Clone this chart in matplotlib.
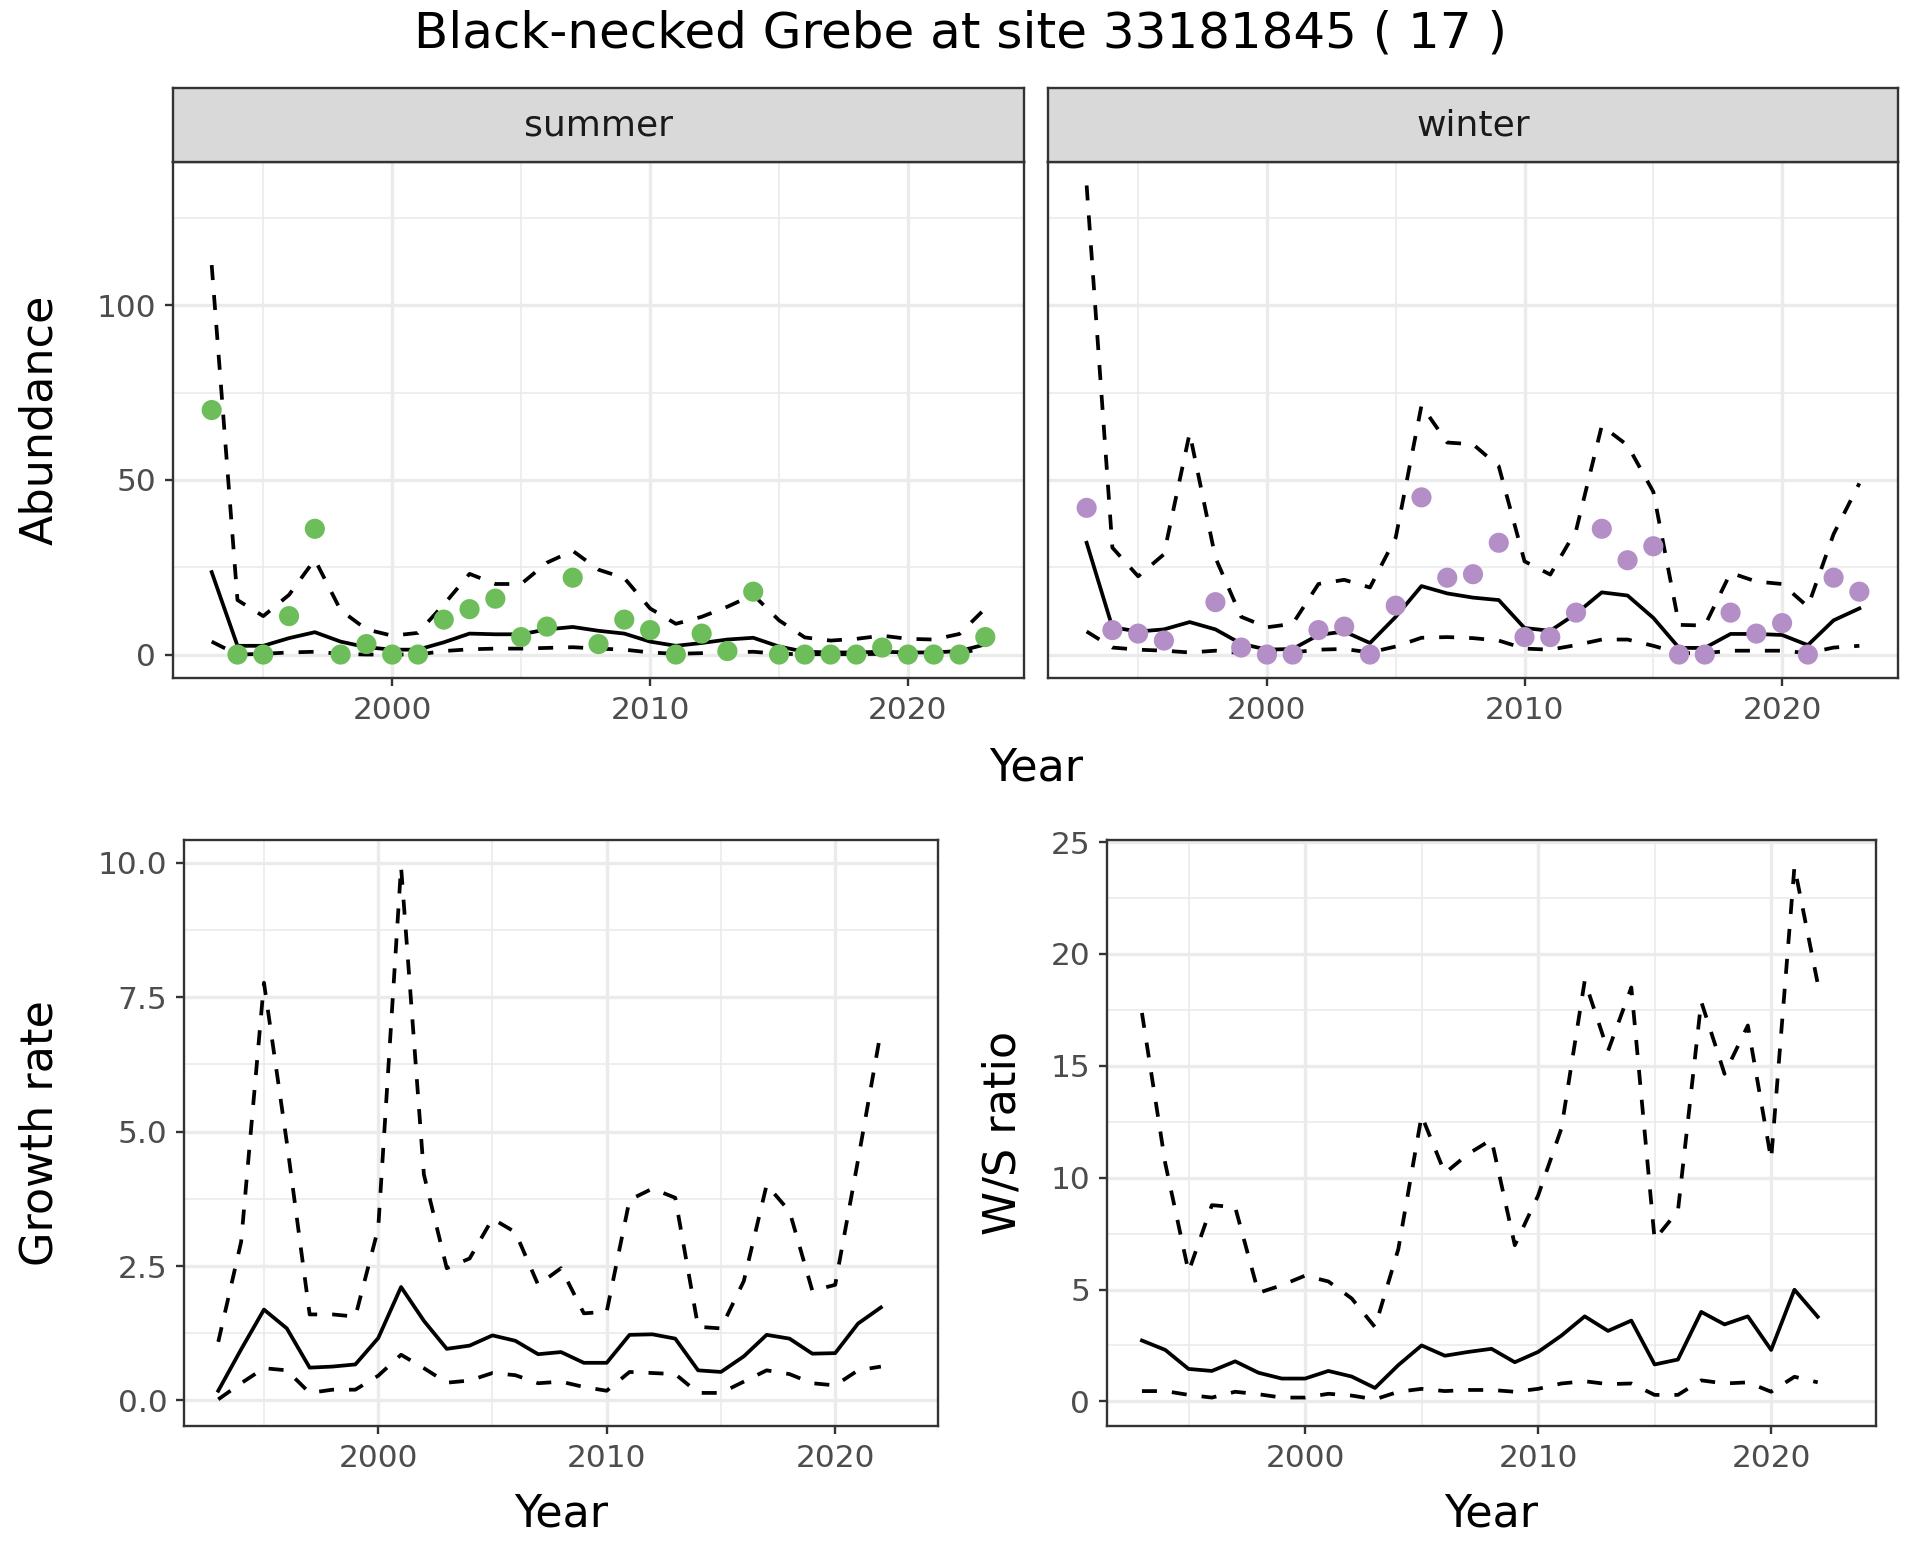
import numpy as np
import matplotlib
matplotlib.use("Agg")
import matplotlib.pyplot as plt
from matplotlib.ticker import MultipleLocator, FixedLocator, FormatStrFormatter

nan = np.nan
years = list(range(1993, 2024))
years_b = list(range(1993, 2023))

summer_count = [70, 0, 0, 11, 36, 0, 3, 0, 0, 10, 13, 16, 5, 8, 22, 3, 10, 7, 0, 6, 1, 18, 0, 0, 0, 0, 2, 0, 0, 0, 5]
summer_mid = [23.6, 2.5, 2.5, 4.7, 6.4, 3.7, 2.1, 1.4, 1.4, 3.5, 6.0, 5.8, 5.8, 7.2, 7.9, 6.8, 6.0, 3.7, 2.5, 3.3, 4.3, 4.8, 2.3, 0.8, 0.6, 0.6, 0.8, 0.6, 0.6, 1.0, 2.9]
summer_hi = [111.5, 15.6, 11.0, 17.1, 27.2, 12.7, 7.2, 5.4, 6.2, 14.3, 23.1, 20.2, 20.2, 26.3, 29.7, 24.3, 21.9, 13.2, 8.8, 10.8, 13.7, 17.1, 9.8, 4.9, 4.0, 4.5, 5.4, 4.5, 4.3, 5.9, 13.2]
summer_lo = [3.7, 0.0, 0.2, 0.6, 0.8, 0.2, 0.0, 0.0, 0.0, 1.0, 1.5, 1.7, 1.7, 1.9, 2.1, 1.7, 1.4, 0.6, 0.2, 0.4, 0.6, 0.8, 0.2, 0.1, 0.1, 0.1, 0.2, 0.1, 0.1, 0.2, 2.1]

winter_count = [42, 7, 6, 4, nan, 15, 2, 0, 0, 7, 8, 0, 14, 45, 22, 23, 32, 5, 5, 12, 36, 27, 31, 0, 0, 12, 6, 9, 0, 22, 18]
winter_mid = [32.0, 7.8, 6.6, 7.2, 9.3, 7.2, 3.1, 1.4, 1.6, 5.6, 6.6, 3.3, 10.8, 19.6, 17.5, 16.3, 15.6, 7.6, 6.8, 11.7, 17.8, 16.9, 10.5, 1.9, 1.9, 5.9, 5.9, 5.6, 2.7, 9.8, 13.2]
winter_hi = [134.3, 30.6, 22.4, 28.7, 63.4, 27.7, 10.8, 7.8, 8.8, 20.2, 21.4, 19.2, 33.5, 71.3, 60.7, 60.2, 53.9, 26.7, 22.9, 35.5, 65.5, 59.9, 46.6, 8.5, 8.3, 23.4, 20.9, 20.2, 13.7, 34.5, 49.0]
winter_lo = [6.6, 2.0, 1.4, 1.1, 0.6, 1.1, 0.4, 0.4, 0.6, 1.4, 1.6, 0.6, 2.3, 4.8, 5.0, 4.7, 4.0, 1.7, 1.4, 2.7, 4.3, 4.3, 2.5, 0.4, 0.4, 1.1, 1.1, 1.1, 0.4, 2.0, 2.5]

growth_mid = [0.18, 0.95, 1.69, 1.34, 0.61, 0.63, 0.67, 1.16, 2.11, 1.48, 0.96, 1.02, 1.21, 1.11, 0.86, 0.90, 0.70, 0.70, 1.22, 1.23, 1.15, 0.56, 0.53, 0.82, 1.22, 1.15, 0.87, 0.88, 1.43, 1.73]
growth_hi = [1.09, 2.95, 7.77, 4.8, 1.60, 1.60, 1.56, 3.2, 9.93, 4.2, 2.46, 2.64, 3.38, 3.13, 2.15, 2.46, 1.62, 1.65, 3.73, 3.94, 3.77, 1.37, 1.34, 2.22, 4.01, 3.52, 2.04, 2.15, 4.47, 6.87]
growth_lo = [0.02, 0.32, 0.60, 0.56, 0.14, 0.20, 0.20, 0.46, 0.85, 0.60, 0.33, 0.37, 0.51, 0.47, 0.32, 0.35, 0.25, 0.18, 0.53, 0.51, 0.49, 0.14, 0.14, 0.35, 0.56, 0.49, 0.32, 0.28, 0.56, 0.63]

ratio_mid = [2.72, 2.30, 1.45, 1.36, 1.79, 1.28, 1.02, 1.02, 1.36, 1.11, 0.60, 1.62, 2.50, 2.04, 2.21, 2.35, 1.75, 2.21, 2.94, 3.80, 3.15, 3.61, 1.65, 1.87, 4.0, 3.44, 3.80, 2.30, 4.99, 3.78]
ratio_hi = [17.36, 10.64, 5.79, 8.77, 8.68, 4.85, 5.19, 5.62, 5.36, 4.6, 3.32, 6.8, 12.77, 10.2, 11.06, 11.7, 6.98, 9.2, 12.2, 18.8, 15.66, 18.5, 7.23, 8.51, 17.87, 14.64, 16.8, 10.81, 23.9, 18.67]
ratio_lo = [0.46, 0.46, 0.29, 0.17, 0.43, 0.32, 0.17, 0.17, 0.34, 0.26, 0.09, 0.43, 0.56, 0.46, 0.51, 0.51, 0.43, 0.56, 0.80, 0.90, 0.77, 0.80, 0.29, 0.29, 0.94, 0.80, 0.85, 0.43, 1.1, 0.85]

title = "Black-necked Grebe at site 33181845 ( 17 )"
facet_labels = ["summer", "winter"]
point_colors = ["#6DBE5A", "#B48FC7"]

W, H = 1920, 1560
fig = plt.figure(figsize=(W / 100, H / 100), dpi=100)
fig.patch.set_facecolor("white")

def rect(l, t, r, b):
    return [l / W, 1 - b / H, (r - l) / W, (b - t) / H]

GRID = "#EBEBEB"
BORDER = "#333333"
TICKC = "#4D4D4D"
LW = 2.7
TICK_FS = 22.5
AX_FS = 32

def expand(lo, hi, f=0.05):
    d = hi - lo
    return lo - f * d, hi + f * d

xlim = expand(min(years), max(years))

def style(ax, ymajor, yminor, yfmt=None, show_y=True):
    ax.set_facecolor("white")
    ax.set_xlim(*xlim)
    ax.xaxis.set_major_locator(FixedLocator([2000, 2010, 2020]))
    ax.xaxis.set_minor_locator(FixedLocator([1995, 2005, 2015]))
    ax.yaxis.set_major_locator(MultipleLocator(ymajor))
    ax.yaxis.set_minor_locator(MultipleLocator(yminor))
    ax.grid(which="major", color=GRID, lw=2.4, zorder=0)
    ax.grid(which="minor", color=GRID, lw=1.2, zorder=0)
    ax.set_axisbelow(True)
    for s in ax.spines.values():
        s.set_color(BORDER)
        s.set_linewidth(1.7)
    ax.tick_params(axis="x", which="major", length=6, width=1.7, color=BORDER,
                   labelsize=TICK_FS, labelcolor=TICKC, pad=7)
    ax.tick_params(axis="y", which="major", length=6, width=1.7, color=BORDER,
                   labelsize=TICK_FS, labelcolor=TICKC, pad=6)
    ax.tick_params(which="minor", length=0)
    if yfmt is not None:
        ax.yaxis.set_major_formatter(yfmt)
    if not show_y:
        ax.tick_params(axis="y", which="both", labelleft=False, length=0)

def draw_band(ax, x, mid, lo, hi):
    ax.plot(x, hi, color="black", lw=LW, ls=(0, (4, 4)), zorder=3)
    ax.plot(x, lo, color="black", lw=LW, ls=(0, (4, 4)), zorder=3)
    ax.plot(x, mid, color="black", lw=LW, ls="-", zorder=3)

# Top facets
all_top = summer_hi + winter_hi + summer_lo + winter_lo + [v for v in summer_count + winter_count if v == v]
ylim_top = expand(min(all_top), max(all_top))

top_rects = [rect(173, 162, 1024, 678), rect(1048, 162, 1898, 678)]
strip_rects = [rect(173, 88, 1024, 162), rect(1048, 88, 1898, 162)]
series_top = [(summer_count, summer_mid, summer_lo, summer_hi),
              (winter_count, winter_mid, winter_lo, winter_hi)]

for i in range(2):
    ax = fig.add_axes(top_rects[i])
    cnt, mid, lo, hi = series_top[i]
    draw_band(ax, years, mid, lo, hi)
    ax.scatter(years, cnt, s=210, color=point_colors[i], edgecolors="none", zorder=4)
    ax.set_ylim(*ylim_top)
    style(ax, 50, 25, show_y=(i == 0))
    sax = fig.add_axes(strip_rects[i])
    sax.set_facecolor("#D9D9D9")
    sax.set_xticks([]); sax.set_yticks([])
    for s in sax.spines.values():
        s.set_color(BORDER); s.set_linewidth(1.7)
    sax.text(0.5, 0.5, facet_labels[i], ha="center", va="center",
             fontsize=26, color="#1A1A1A", transform=sax.transAxes)

# Growth rate
ax = fig.add_axes(rect(184, 840, 938, 1426))
draw_band(ax, years_b, growth_mid, growth_lo, growth_hi)
ax.set_ylim(*expand(min(growth_lo), max(growth_hi)))
style(ax, 2.5, 1.25, yfmt=FormatStrFormatter("%.1f"))

# W/S ratio
ax = fig.add_axes(rect(1107, 840, 1876, 1426))
draw_band(ax, years_b, ratio_mid, ratio_lo, ratio_hi)
ax.set_ylim(*expand(min(ratio_lo), max(ratio_hi)))
style(ax, 5, 2.5)

# Texts
fig.text(0.5, 1 - 34 / H, title, fontsize=36, ha="center", va="center", color="black")
fig.text(40 / W, 1 - 420 / H, "Abundance", fontsize=AX_FS, rotation=90, ha="center", va="center")
fig.text(1036 / W, 1 - 768 / H, "Year", fontsize=AX_FS, ha="center", va="center")
fig.text(40 / W, 1 - 1133 / H, "Growth rate", fontsize=AX_FS, rotation=90, ha="center", va="center")
fig.text(561 / W, 1 - 1514 / H, "Year", fontsize=AX_FS, ha="center", va="center")
fig.text(1003 / W, 1 - 1133 / H, "W/S ratio", fontsize=AX_FS, rotation=90, ha="center", va="center")
fig.text(1491 / W, 1 - 1514 / H, "Year", fontsize=AX_FS, ha="center", va="center")

fig.savefig("out.png", dpi=100, facecolor="white")
